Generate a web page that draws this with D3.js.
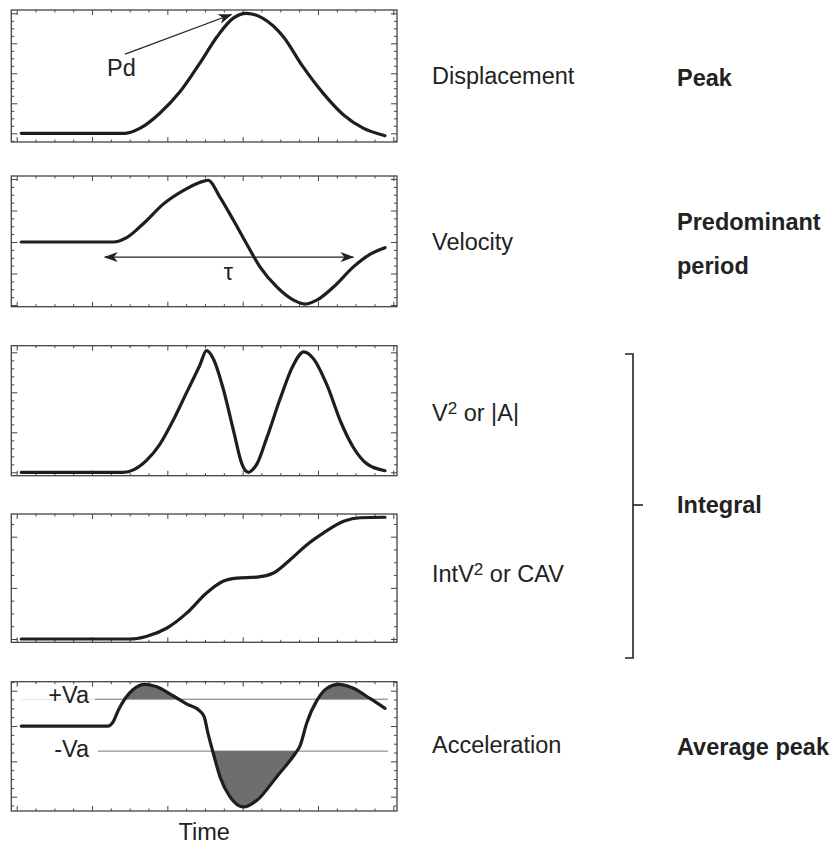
<!DOCTYPE html>
<html lang="en"><head><meta charset="UTF-8">
<script src="https://d3js.org/d3.v7.min.js"></script>
<style>
    body {margin: 0; background: #fff;}
    text {font-family: "Liberation Sans", Arial, sans-serif; font-size: 23.5px; fill: #222;}
    .bold {font-weight: bold;}
</style>
</head>
<body>
<div id="chart"></div>

<script>
//here comes the data (time in panel units)
var dispTime  = [0.06, 1.44, 1.64, 1.90, 2.17, 2.43, 2.66, 2.87, 3.05, 3.27, 3.54, 3.80, 4.07, 4.34, 4.60, 4.89];
var dispValue = [0, 0, 0.17, 0.67, 1.39, 2.33, 3.22, 3.83, 4.0, 3.83, 3.22, 2.22, 1.33, 0.61, 0.17, -0.08];

var velTime  = [0.06, 1.28, 1.46, 1.68, 1.95, 2.21, 2.43, 2.54, 2.70, 2.88, 3.05, 3.23, 3.45, 3.67, 3.83, 3.99, 4.21, 4.47, 4.69, 4.89];
var velValue = [2, 2, 2.14, 2.58, 3.21, 3.63, 3.89, 3.96, 3.42, 2.68, 1.95, 1.21, 0.58, 0.16, 0.03, 0.16, 0.58, 1.21, 1.61, 1.82];

var sqTime  = [0.06, 1.41, 1.55, 1.72, 1.90, 2.08, 2.26, 2.43, 2.52, 2.61, 2.74, 2.88, 2.99, 3.03, 3.08, 3.13, 3.19, 3.32, 3.50, 3.67, 3.81, 3.94, 4.12, 4.30, 4.47, 4.65, 4.89];
var sqValue = [0, 0, 0.06, 0.29, 0.70, 1.31, 2.01, 2.67, 3.04, 2.84, 2.10, 1.03, 0.21, 0.06, 0, 0.06, 0.21, 0.86, 1.85, 2.67, 3.01, 2.84, 2.18, 1.27, 0.62, 0.21, 0.04];

var intTime  = [0.06, 1.50, 1.72, 1.99, 2.26, 2.52, 2.74, 2.92, 3.19, 3.41, 3.63, 3.85, 4.07, 4.34, 4.56, 4.89];
var intValue = [0, 0, 0.05, 0.21, 0.51, 0.90, 1.13, 1.19, 1.21, 1.29, 1.55, 1.84, 2.07, 2.30, 2.37, 2.38];

var accTime  = [0.06, 1.21, 1.28, 1.35, 1.44, 1.55, 1.70, 1.86, 2.08, 2.26, 2.43, 2.49, 2.54, 2.61, 2.70, 2.83, 3.01, 3.19, 3.45, 3.70, 3.76, 3.85, 3.99, 4.12, 4.27, 4.47, 4.69, 4.89];
var accValue = [0, 0, 0.12, 0.45, 0.78, 1.04, 1.18, 1.11, 0.85, 0.62, 0.43, 0.26, -0.21, -0.77, -1.44, -2.0, -2.29, -2.10, -1.44, -0.77, -0.57, 0.08, 0.74, 1.07, 1.18, 1.07, 0.78, 0.50];

var vaLevels = [0.76, -0.71];
var vaLabels = ["+Va", "-Va"];

var seriesNames = ["Displacement", "Velocity", "V|2| or |A|", "IntV|2| or CAV", "Acceleration"];
var measureNames = [["Peak"], ["Predominant", "period"], [], [], ["Average peak"]];
//end of data

//++++++++++++++++++++++++++++++++++++++++++++++++++++++++++++++++++++++++++++++
var W = 832, H = 846;
var frameL = 11.3, frameR = 397;
var x = d3.scaleLinear().domain([0, 5]).range([16.7, 393.3]);

var svg = d3.select("#chart").append("svg")
    .attr("width", W)
    .attr("height", H);

var defs = svg.append("defs");
defs.append("marker")
    .attr("id", "head")
    .attr("markerUnits", "userSpaceOnUse")
    .attr("markerWidth", 14).attr("markerHeight", 10)
    .attr("refX", 13).attr("refY", 5)
    .attr("orient", "auto-start-reverse")
    .append("path")
    .attr("d", "M0,0 L14,5 L0,10 L4,5 Z")
    .attr("fill", "#222");

// layout of the five panels (pixel frame + where the major ticks land)
var panels = [
    {top: 10,    bottom: 142,   dom: [0, 4],  rng: [133.3, 13.3],  minor: 0.25, t: dispTime, v: dispValue, label: 84,  measure: [86]},
    {top: 176,   bottom: 306.7, dom: [0, 4],  rng: [305, 179],     minor: 0.25, t: velTime,  v: velValue,  label: 250, measure: [230, 274]},
    {top: 345.7, bottom: 475.7, dom: [0, 3],  rng: [472.3, 352.3], minor: 0.2,  t: sqTime,   v: sqValue,   label: 421, measure: []},
    {top: 514,   bottom: 642.3, dom: [0, 2],  rng: [639, 536.7],   minor: 0.25, t: intTime,  v: intValue,  label: 582, measure: []},
    {top: 681.7, bottom: 811,   dom: [-2, 1], rng: [796.7, 690.7], minor: 0.25, t: accTime,  v: accValue,  label: 753, measure: [755]}
];

function tickVals(lo, hi, step) {
    var out = [];
    for (var k = Math.ceil(lo / step - 1e-6); k * step <= hi + 1e-6; k++) out.push(+(k * step).toFixed(4));
    return out;
}
function isMajor(v) { return Math.abs(v - Math.round(v)) < 1e-6; }

function styleAxis(sel) {
    sel.select(".domain").remove();
    sel.selectAll(".tick line").attr("stroke", "#444").attr("stroke-width", 1);
}

function drawFrame(g, p) {
    var yv = tickVals(p.y.invert(p.bottom), p.y.invert(p.top), p.minor);
    var xv = tickVals(x.invert(frameL), x.invert(frameR), 0.25);
    var yMaj = yv.filter(isMajor), yMin = yv.filter(function(v) { return !isMajor(v); });
    var xMaj = xv.filter(isMajor), xMin = xv.filter(function(v) { return !isMajor(v); });

    [[yMaj, 6], [yMin, 3]].forEach(function(s) {
        g.append("g").attr("transform", "translate(" + frameL + ",0)")
            .call(d3.axisRight(p.y).tickValues(s[0]).tickSize(s[1]).tickFormat("")).call(styleAxis);
        g.append("g").attr("transform", "translate(" + frameR + ",0)")
            .call(d3.axisLeft(p.y).tickValues(s[0]).tickSize(s[1]).tickFormat("")).call(styleAxis);
    });
    [[xMaj, 5], [xMin, 2.5]].forEach(function(s) {
        g.append("g").attr("transform", "translate(0," + p.bottom + ")")
            .call(d3.axisTop(x).tickValues(s[0]).tickSize(s[1]).tickFormat("")).call(styleAxis);
        g.append("g").attr("transform", "translate(0," + p.top + ")")
            .call(d3.axisBottom(x).tickValues(s[0]).tickSize(s[1]).tickFormat("")).call(styleAxis);
    });

    g.append("rect")
        .attr("x", frameL).attr("y", p.top)
        .attr("width", frameR - frameL).attr("height", p.bottom - p.top)
        .attr("fill", "none").attr("stroke", "#444").attr("stroke-width", 1.3);
}

// text with "|2|" written as a superscript
function richText(g, str, xx, yy) {
    var t = g.append("text").attr("x", xx).attr("y", yy);
    str.split("|2|").forEach(function(part, i) {
        if (i > 0) {
            t.append("tspan").attr("dy", -7).style("font-size", "17px").text("2");
            t.append("tspan").attr("dy", 7).text(part);
        } else {
            t.append("tspan").text(part);
        }
    });
}

panels.forEach(function(p, i) {
    p.y = d3.scaleLinear().domain(p.dom).range(p.rng);
    var g = svg.append("g");
    var pts = d3.zip(p.t, p.v);
    var line = d3.line()
        .x(function(d) { return x(d[0]); })
        .y(function(d) { return p.y(d[1]); })
        .curve(d3.curveMonotoneX);

    if (i === 4) {
        // shaded excursions beyond +Va / -Va
        vaLevels.forEach(function(lv, k) {
            var cid = "clipva" + k;
            var ly = p.y(lv);
            defs.append("clipPath").attr("id", cid).append("rect")
                .attr("x", frameL)
                .attr("y", k === 0 ? p.top : ly)
                .attr("width", frameR - frameL)
                .attr("height", k === 0 ? ly - p.top : p.bottom - ly);
            g.append("path").datum(pts)
                .attr("clip-path", "url(#" + cid + ")")
                .attr("fill", "#6e6e6e")
                .attr("d", d3.area()
                    .x(function(d) { return x(d[0]); })
                    .y0(ly)
                    .y1(function(d) { return p.y(d[1]); })
                    .curve(d3.curveMonotoneX));
            g.append("line")
                .attr("x1", x(k === 0 ? 1.04 : 1.08)).attr("x2", x(4.93))
                .attr("y1", ly).attr("y2", ly)
                .attr("stroke", "#777").attr("stroke-width", 1);
            g.append("text")
                .attr("x", 89).attr("y", ly + (k === 0 ? 4 : 6))
                .attr("text-anchor", "end")
                .text(vaLabels[k]);
        });
    }

    drawFrame(g, p);

    g.append("path").datum(pts)
        .attr("fill", "none")
        .attr("stroke", "#1e1e1e")
        .attr("stroke-width", 3.2)
        .attr("stroke-linejoin", "round")
        .attr("stroke-linecap", "round")
        .attr("d", line);

    richText(svg, seriesNames[i], 432, p.label);
    measureNames[i].forEach(function(m, k) {
        svg.append("text").attr("class", "bold")
            .attr("x", 677).attr("y", p.measure[k])
            .text(m);
    });

    if (i === 0) {
        g.append("line")
            .attr("x1", x(1.44)).attr("y1", p.y(2.64))
            .attr("x2", x(2.85)).attr("y2", p.y(3.96))
            .attr("stroke", "#222").attr("stroke-width", 1.2)
            .attr("marker-end", "url(#head)");
        g.append("text").attr("x", x(1.2)).attr("y", p.y(1.91)).text("Pd");
    }
    if (i === 1) {
        g.append("line")
            .attr("x1", x(1.17)).attr("y1", p.y(1.52))
            .attr("x2", x(4.47)).attr("y2", p.y(1.52))
            .attr("stroke", "#222").attr("stroke-width", 1.2)
            .attr("marker-start", "url(#head)")
            .attr("marker-end", "url(#head)");
        g.append("text").attr("x", x(2.81)).attr("y", p.y(0.79))
            .attr("text-anchor", "middle").text("τ");
    }
});

// bracket joining the two integral panels
var br = svg.append("g").attr("fill", "none").attr("stroke", "#222").attr("stroke-width", 1.6);
br.append("path").attr("d", "M625,354 H633 V658 H625");
br.append("path").attr("d", "M633,505 H643");
svg.append("text").attr("class", "bold").attr("x", 677).attr("y", 513).text("Integral");

svg.append("text")
    .attr("x", x(2.49)).attr("y", 840)
    .attr("text-anchor", "middle")
    .text("Time");
//++++++++++++++++++++++++++++++++++++++++++++++++++++++++++++++++++++++++++++++
</script>
</body>
</html>
